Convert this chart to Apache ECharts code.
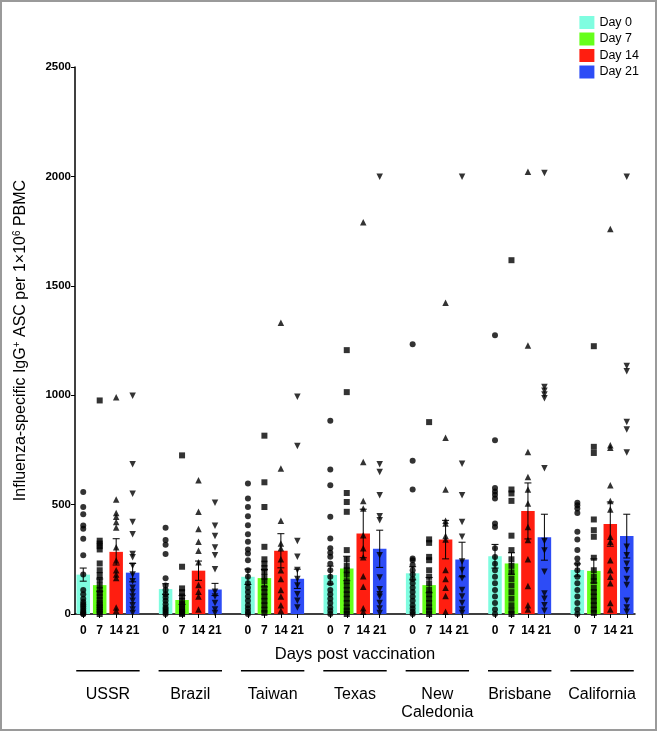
<!DOCTYPE html>
<html>
<head>
<meta charset="utf-8">
<script src="https://cdn.jsdelivr.net/npm/echarts@6/dist/echarts.min.js"></script>
<style>
  html, body { margin: 0; padding: 0; background: #fff; }
  #chart { width: 657px; height: 731px; }
</style>
</head>
<body>
<div id="chart"></div>
<script>
// ---------- data ----------
const strains = ['USSR', 'Brazil', 'Taiwan', 'Texas', 'New\nCaledonia', 'Brisbane', 'California'];
const dayLabels = ['0', '7', '14', '21'];
const seriesNames = ['Day 0', 'Day 7', 'Day 14', 'Day 21'];
const yTicks = [0, 500, 1000, 1500, 2000, 2500];

const meanDay0 = [180, 114, 170, 178, 186, 264, 201];
const meanDay7 = [132, 64, 164, 208, 132, 231, 197];
const meanDay14 = [284, 198, 289, 368, 340, 471, 411];
const meanDay21 = [189, 112, 161, 298, 249, 351, 356];

const semDay0 = [30, 24, 35, 41, 30, 54, 28];
const semDay7 = [28, 20, 40, 56, 35, 49, 55];
const semDay14 = [60, 44, 78, 111, 88, 128, 101];
const semDay21 = [42, 28, 44, 85, 79, 105, 100];

const pointsDay0 = [
  [558, 489, 456, 405, 390, 344, 269, 180, 110, 90, 70, 55, 45, 35, 25, 15, 8, 0, 0],
  [394, 338, 316, 274, 163, 130, 110, 90, 75, 60, 45, 30, 20, 10, 0],
  [596, 528, 489, 447, 406, 365, 330, 295, 277, 246, 200, 170, 140, 120, 100, 80, 60, 40, 25, 10, 0],
  [883, 660, 589, 444, 345, 300, 280, 262, 230, 200, 170, 140, 110, 90, 70, 50, 30, 15, 0],
  [1233, 700, 569, 254, 246, 224, 200, 180, 160, 140, 120, 100, 80, 60, 40, 25, 10, 0],
  [1274, 794, 576, 560, 545, 528, 414, 398, 300, 260, 230, 200, 170, 140, 110, 80, 50, 20, 0],
  [508, 497, 482, 462, 376, 340, 292, 254, 230, 200, 170, 140, 110, 80, 50, 20, 0]
];
const pointsDay7 = [
  [976, 335, 322, 310, 295, 231, 200, 178, 155, 130, 110, 95, 80, 65, 50, 40, 30, 20, 10, 0],
  [725, 216, 117, 100, 80, 60, 45, 30, 20, 10, 5, 0],
  [815, 602, 489, 307, 250, 230, 210, 193, 170, 150, 120, 100, 80, 60, 40, 20, 5],
  [1206, 1014, 553, 512, 467, 292, 250, 220, 200, 180, 150, 130, 110, 90, 70, 50, 30, 15, 0],
  [877, 341, 325, 261, 246, 200, 170, 140, 110, 90, 70, 50, 30, 15, 0],
  [1617, 569, 551, 517, 358, 292, 250, 220, 190, 160, 130, 100, 70, 40, 15, 0],
  [1224, 764, 736, 432, 383, 353, 257, 200, 170, 150, 120, 100, 80, 60, 40, 20, 5]
];
const pointsDay14 = [
  [991, 523, 462, 444, 421, 395, 305, 245, 200, 180, 165, 30, 15],
  [611, 467, 388, 330, 289, 237, 132, 102, 80, 21],
  [1331, 665, 426, 322, 300, 250, 200, 160, 110, 80, 40, 15],
  [1791, 695, 517, 482, 360, 300, 259, 173, 125, 26, 10],
  [1422, 806, 569, 426, 414, 356, 341, 201, 160, 120, 82, 10],
  [2021, 1227, 740, 626, 569, 505, 398, 338, 250, 128, 40, 20],
  [1760, 771, 760, 589, 517, 478, 353, 330, 246, 200, 170, 140, 50, 20]
];
const pointsDay21 = [
  [997, 684, 550, 421, 365, 274, 259, 220, 180, 150, 120, 100, 80, 60, 40, 20, 5],
  [509, 403, 356, 304, 269, 204, 102, 80, 50, 20, 5],
  [993, 768, 334, 262, 201, 160, 130, 90, 60, 30],
  [1998, 684, 649, 543, 447, 429, 269, 167, 113, 90, 79, 50, 25, 5],
  [1998, 687, 543, 421, 353, 240, 201, 163, 110, 80, 50, 20, 5],
  [2016, 1037, 1020, 1003, 986, 666, 334, 290, 193, 94, 70, 40, 15],
  [1998, 1133, 1110, 877, 843, 738, 307, 269, 230, 200, 160, 132, 60, 30, 10]
];

// ---------- styling ----------
const colors = ['#7ffde0', '#66ff1a', '#ff1e10', '#2d4cf6'];
const symbols = ['circle', 'rect', 'triangle', 'triangle'];
const symbolRotates = [0, 0, 0, 180];
const FONT = 'Liberation Sans, Arial, sans-serif';

const means = [meanDay0, meanDay7, meanDay14, meanDay21];
const sems = [semDay0, semDay7, semDay14, semDay21];
const points = [pointsDay0, pointsDay7, pointsDay14, pointsDay21];

// category slots: 4 bars per strain + 1 empty gap slot between strains
const SLOTS_PER_GROUP = 5;
const slotOf = (g, d) => g * SLOTS_PER_GROUP + d;
const categories = [];
strains.forEach((s, g) => {
  dayLabels.forEach(d => categories.push(d));
  if (g < strains.length - 1) categories.push('');
});

const series = [];
// bars
for (let d = 0; d < 4; d++) {
  const data = categories.map(() => '-');
  strains.forEach((s, g) => { data[slotOf(g, d)] = means[d][g]; });
  series.push({
    name: seriesNames[d], type: 'bar', data: data,
    barWidth: 13.5, barGap: '-100%', z: 1,
    itemStyle: { color: colors[d] },
    emphasis: { disabled: true }
  });
}
// scatter points
for (let d = 0; d < 4; d++) {
  const data = [];
  strains.forEach((s, g) => {
    points[d][g].forEach(v => data.push([slotOf(g, d), v]));
  });
  series.push({
    name: 'pts' + d, type: 'scatter', data: data,
    symbol: symbols[d], symbolRotate: symbolRotates[d],
    symbolSize: d >= 2 ? 6.5 : 6, z: 4,
    itemStyle: { color: '#000' },
    emphasis: { disabled: true }
  });
}
// error bars (mean ± SEM)
const errData = [];
for (let d = 0; d < 4; d++) {
  strains.forEach((s, g) => errData.push([slotOf(g, d), means[d][g], sems[d][g]]));
}
series.push({
  name: 'err', type: 'custom', z: 5, data: errData,
  encode: { x: 0, y: 1 },
  renderItem: function (params, api) {
    const x = api.value(0), m = api.value(1), s = api.value(2);
    const top = api.coord([x, m + s]);
    const bot = api.coord([x, Math.max(0, m - s)]);
    const hw = 3.5;
    const st = { stroke: '#000', lineWidth: 1 };
    return {
      type: 'group',
      children: [
        { type: 'line', shape: { x1: top[0], y1: top[1], x2: bot[0], y2: bot[1] }, style: st },
        { type: 'line', shape: { x1: top[0] - hw, y1: top[1], x2: top[0] + hw, y2: top[1] }, style: st },
        { type: 'line', shape: { x1: bot[0] - hw, y1: bot[1], x2: bot[0] + hw, y2: bot[1] }, style: st }
      ]
    };
  }
});

const chart = echarts.init(document.getElementById('chart'), null, { renderer: 'canvas' });
chart.setOption({
  animation: false,
  backgroundColor: '#fff',
  textStyle: { fontFamily: FONT },
  legend: {
    data: seriesNames, orient: 'vertical', right: 13, top: 11,
    icon: 'rect', itemWidth: 15, itemHeight: 13, itemGap: 3.5,
    textStyle: { fontSize: 12.5, color: '#000', fontFamily: FONT },
    selectedMode: false
  },
  grid: { left: 75, right: 22, top: 67, bottom: 117, containLabel: false },
  xAxis: {
    type: 'category', data: categories, boundaryGap: true,
    axisLine: { lineStyle: { color: '#000', width: 1.5 } },
    axisTick: { show: true, alignWithLabel: true, length: 4, interval: (i, v) => v !== '', lineStyle: { color: '#000', width: 1 } },
    axisLabel: { interval: 0, color: '#000', fontWeight: 'bold', fontSize: 12, margin: 11, fontFamily: FONT },
    name: 'Days post vaccination', nameLocation: 'middle', nameGap: 32,
    nameTextStyle: { fontSize: 16.5, color: '#000', fontFamily: FONT },
    splitLine: { show: false }
  },
  yAxis: {
    type: 'value', min: yTicks[0], max: yTicks[yTicks.length - 1], interval: yTicks[1] - yTicks[0],
    axisLine: { show: true, lineStyle: { color: '#000', width: 1.5 } },
    axisTick: { show: true, length: 4, lineStyle: { color: '#000', width: 1 } },
    axisLabel: { color: '#000', fontWeight: 'bold', fontSize: 11.5, margin: 4, fontFamily: FONT, formatter: v => String(v) },
    splitLine: { show: false },
    name: 'Influenza-specific IgG{sup|+} ASC per 1×10{sup|6} PBMC',
    nameLocation: 'middle', nameGap: 45,
    nameTextStyle: {
      fontSize: 16, color: '#000', fontFamily: FONT, lineHeight: 18,
      rich: { sup: { fontSize: 10, lineHeight: 10, verticalAlign: 'top', color: '#000', fontFamily: FONT } }
    }
  },
  series: series
});

// group labels and lines under the axis, positioned through the axis scale
const graphics = [];
strains.forEach((s, g) => {
  const x0 = chart.convertToPixel({ xAxisIndex: 0 }, slotOf(g, 0));
  const x3 = chart.convertToPixel({ xAxisIndex: 0 }, slotOf(g, 3));
  const cx = (x0 + x3) / 2;
  graphics.push({
    type: 'rect', shape: { x: x0 - 7, y: 670, width: (x3 - x0) + 14, height: 1.5 },
    style: { fill: '#000' }
  });
  const twoLine = s.indexOf('\n') >= 0;
  graphics.push({
    type: 'text', x: cx, y: twoLine ? 704 : 695,
    style: {
      text: s, fill: '#000', font: '16px ' + FONT,
      textAlign: 'center', textVerticalAlign: 'middle', lineHeight: 18
    }
  });
});
graphics.push({
  type: 'rect', shape: { x: 1, y: 1, width: 655, height: 729 },
  style: { fill: 'none', stroke: '#9a9a9a', lineWidth: 2 }, z: 100
});
chart.setOption({ graphic: graphics });
</script>
</body>
</html>
